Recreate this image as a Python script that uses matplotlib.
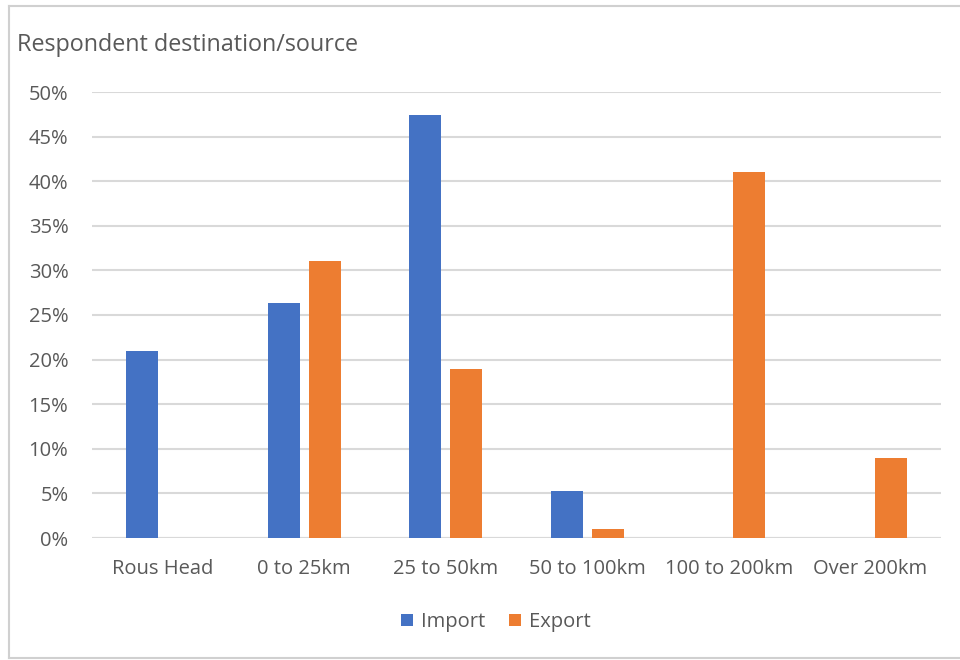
import matplotlib.pyplot as plt
from matplotlib.lines import Line2D
import numpy as np

categories = ["Rous Head", "0 to 25km", "25 to 50km", "50 to 100km", "100 to 200km", "Over 200km"]
import_pct = [21.0, 26.3, 47.4, 5.3, 0.0, 0.0]
export_pct = [0.0, 31.0, 19.0, 1.0, 41.0, 9.0]
series_names = ["Import", "Export"]
y_ticks = [0, 5, 10, 15, 20, 25, 30, 35, 40, 45, 50]

BLUE = "#4472C4"
ORANGE = "#ED7D31"
TEXT = "#595959"
GRID = "#D9D9D9"

plt.rcParams['font.family'] = ['Open Sans', 'DejaVu Sans']

fig = plt.figure(figsize=(9.6, 6.6), dpi=100)
W, H = 960, 660

# outer frame (left, top and bottom edges)
for xs, ys in [((9 / W, 9 / W), (2 / H, 654 / H)),
               ((9 / W, 1.0), (654 / H, 654 / H)),
               ((9 / W, 1.0), (2 / H, 2 / H))]:
    fig.add_artist(Line2D(xs, ys, transform=fig.transFigure, color="#D0D0D0", lw=1.5))

ax = fig.add_axes([92 / W, (660 - 538) / H, (941 - 92) / W, (538 - 92) / H])

x = np.arange(len(categories))
bw = 0.226
off = 0.146
imp = ax.bar(x - off, import_pct, bw, color=BLUE, label=series_names[0], zorder=3)
exp = ax.bar(x + off, export_pct, bw, color=ORANGE, label=series_names[1], zorder=3)

ax.set_xlim(-0.5, len(categories) - 0.5)
ax.set_ylim(0, 50)
ax.set_yticks(y_ticks)
ax.set_yticklabels([f"{t}%" for t in y_ticks])
ax.set_xticks(x)
ax.set_xticklabels(categories)
ax.yaxis.grid(True, color=GRID, lw=1.5, zorder=0)
ax.set_axisbelow(True)
for s in ax.spines.values():
    s.set_visible(False)
ax.axhline(0, color=GRID, lw=1.5, zorder=2)
ax.tick_params(axis='both', length=0, labelsize=14.5, colors=TEXT)
ax.tick_params(axis='y', pad=17)
ax.tick_params(axis='x', pad=15)

fig.text(17 / W, 1 - 45 / H, "Respondent destination/source", fontsize=16.8,
         color=TEXT, va='center', ha='left')

leg = fig.legend(handles=[imp, exp], loc='center', bbox_to_anchor=(496 / W, 1 - 622 / H),
                 ncol=2, frameon=False, fontsize=14.5, handlelength=0.6, handleheight=0.6,
                 columnspacing=1.2, handletextpad=0.4)
for t in leg.get_texts():
    t.set_color(TEXT)

fig.savefig("out.png", dpi=100)
